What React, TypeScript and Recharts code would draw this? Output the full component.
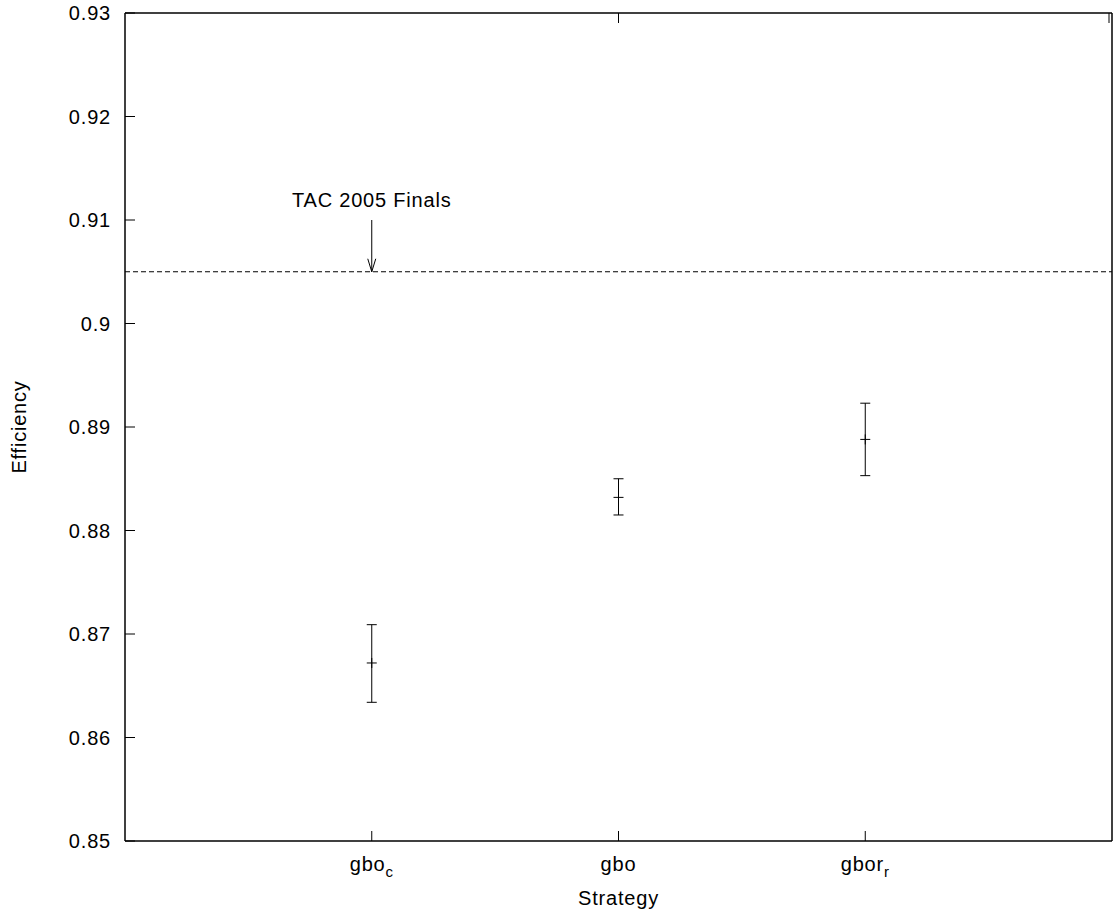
import React from "react";
import { ComposedChart, Scatter, ErrorBar, XAxis, YAxis, ReferenceLine } from "recharts";

// strategies (label text + subscript) and their x slot
const strategyBase = ["gbo", "gbo", "gbor"];
const strategySub = ["c", "", "r"];
const strategyPos = [1, 2, 3];

// efficiency: mean and error bar bounds
const means = [0.8672, 0.8832, 0.8888];
const lows = [0.8634, 0.8815, 0.8853];
const highs = [0.8709, 0.885, 0.8923];

const yTicks = [0.85, 0.86, 0.87, 0.88, 0.89, 0.9, 0.91, 0.92, 0.93];
const finalsLevel = 0.905;
const finalsArrowTop = 0.91;
const finalsLabel = "TAC 2005 Finals";

const FONT = "'Liberation Sans', Arial, Helvetica, sans-serif";
const FS = 20;
const LS = 0.8;
const TICK = 10;
const AXIS = { stroke: "#000", strokeWidth: 1.5 };

const rows = strategyPos.map((x, i) => ({
  x,
  mean: means[i],
  err: [means[i] - lows[i], highs[i] - means[i]],
}));

const fmtY = (v: number) => String(Number(v.toFixed(2)));

function LeftTick({ x, y, payload }: any) {
  return (
    <g>
      <line x1={x} y1={y} x2={x + TICK} y2={y} stroke="#000" />
      <text x={x - 14} y={y} dy="0.36em" textAnchor="end" fontFamily={FONT} fontSize={FS} letterSpacing={LS} fill="#000">
        {fmtY(payload.value)}
      </text>
    </g>
  );
}

function RightTick({ x, y }: any) {
  return <line x1={x} y1={y} x2={x - TICK} y2={y} stroke="#000" />;
}

function TopTick({ x, y }: any) {
  return <line x1={x} y1={y} x2={x} y2={y + TICK} stroke="#000" />;
}

function BottomTick({ x, y, payload }: any) {
  const i = strategyPos.indexOf(payload.value);
  return (
    <g>
      <line x1={x} y1={y} x2={x} y2={y - TICK} stroke="#000" />
      <text x={x} y={y + 30} textAnchor="middle" fontFamily={FONT} fontSize={FS} letterSpacing={LS} fill="#000">
        {strategyBase[i]}
        {strategySub[i] ? (
          <tspan fontSize={15} dy={6}>
            {strategySub[i]}
          </tspan>
        ) : null}
      </text>
    </g>
  );
}

function MeanMark({ cx, cy }: any) {
  return (
    <g>
      <line x1={cx - 5} y1={cy} x2={cx + 5} y2={cy} stroke="#000" />
      <line x1={cx} y1={cy - 5} x2={cx} y2={cy + 5} stroke="#000" />
    </g>
  );
}

function FinalsArrow({ x1, y1, x2, y2 }: any) {
  return (
    <g>
      <text x={x1} y={y1 - 13} textAnchor="middle" fontFamily={FONT} fontSize={FS} letterSpacing={LS} fill="#000">
        {finalsLabel}
      </text>
      <line x1={x1} y1={y1} x2={x2} y2={y2} stroke="#000" />
      <polyline points={`${x2 - 4},${y2 - 13} ${x2},${y2} ${x2 + 4},${y2 - 13}`} fill="none" stroke="#000" />
    </g>
  );
}

export default function App() {
  return (
    <div style={{ position: "absolute", left: 0, top: 0, background: "#fff" }}>
      <ComposedChart width={1113} height={912} data={rows} margin={{ top: 12, right: 0, bottom: 0, left: 0 }}>
        <XAxis
          dataKey="x"
          type="number"
          domain={[0, 4]}
          ticks={strategyPos}
          height={71}
          tickSize={0}
          tickMargin={0}
          tickLine={false}
          tick={<BottomTick />}
          axisLine={AXIS}
          label={{
            content: ({ viewBox }: any) => (
              <text
                x={viewBox.x + viewBox.width / 2}
                y={905}
                textAnchor="middle"
                fontFamily={FONT}
                fontSize={FS}
                letterSpacing={LS}
                fill="#000"
              >
                Strategy
              </text>
            ),
          }}
        />
        <XAxis
          xAxisId="top"
          orientation="top"
          type="number"
          domain={[0, 4]}
          ticks={strategyPos}
          height={1}
          tickSize={0}
          tickMargin={0}
          tickLine={false}
          tick={<TopTick />}
          axisLine={AXIS}
        />
        <YAxis
          dataKey="mean"
          type="number"
          domain={[0.85, 0.93]}
          ticks={yTicks}
          width={125}
          tickSize={0}
          tickMargin={0}
          tickLine={false}
          tick={<LeftTick />}
          axisLine={AXIS}
          interval={0}
          label={{
            content: ({ viewBox }: any) => {
              const cy = viewBox.y + viewBox.height / 2;
              return (
                <text
                  x={26}
                  y={cy}
                  transform={`rotate(-90 26 ${cy})`}
                  textAnchor="middle"
                  fontFamily={FONT}
                  fontSize={FS}
                  letterSpacing={LS}
                  fill="#000"
                >
                  Efficiency
                </text>
              );
            },
          }}
        />
        <YAxis
          yAxisId="right"
          orientation="right"
          type="number"
          domain={[0.85, 0.93]}
          ticks={yTicks}
          width={1}
          tickSize={0}
          tickMargin={0}
          tickLine={false}
          tick={<RightTick />}
          axisLine={AXIS}
          interval={0}
        />
        <ReferenceLine y={finalsLevel} stroke="#000" strokeDasharray="5 3" />
        <ReferenceLine
          segment={[
            { x: strategyPos[0], y: finalsArrowTop },
            { x: strategyPos[0], y: finalsLevel },
          ]}
          shape={<FinalsArrow />}
        />
        <Scatter dataKey="mean" shape={<MeanMark />} isAnimationActive={false}>
          <ErrorBar dataKey="err" direction="y" width={5} stroke="#000" strokeWidth={1} />
        </Scatter>
      </ComposedChart>
    </div>
  );
}
